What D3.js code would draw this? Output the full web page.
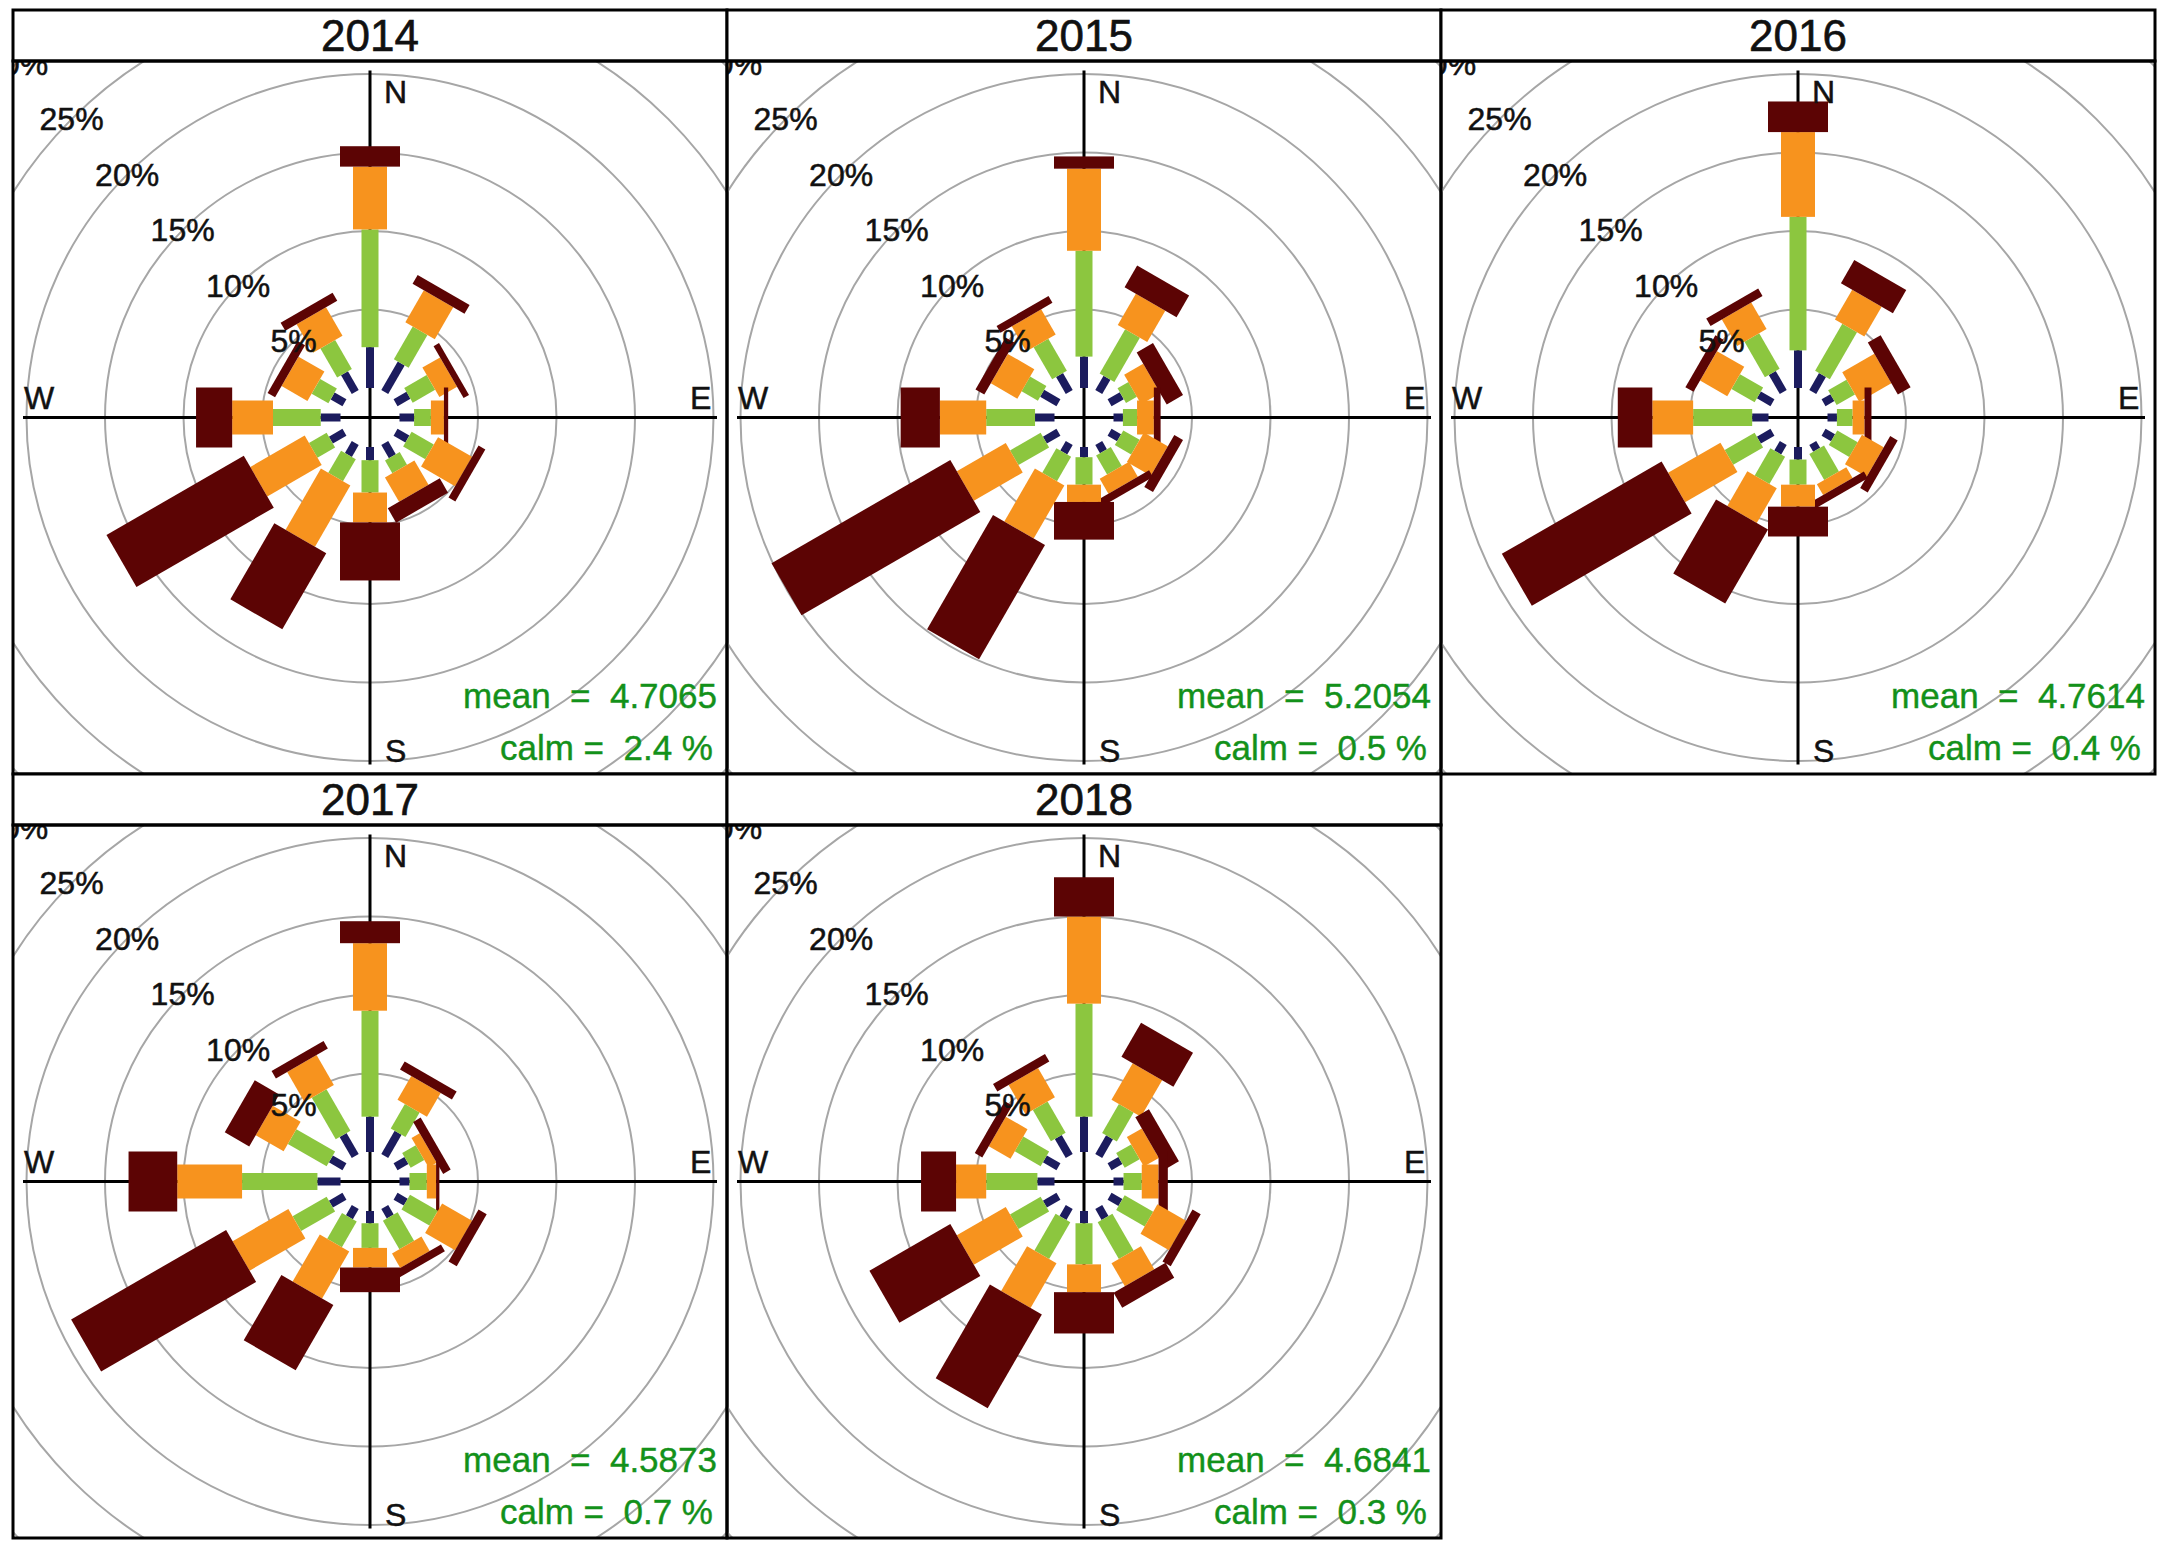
<!DOCTYPE html>
<html><head><meta charset="utf-8">
<script src="https://cdn.jsdelivr.net/npm/d3@7"></script>
<style>body{margin:0;background:#fff}svg{display:block}</style>
</head><body>
<svg id="chart" width="2159" height="1541"></svg>
<script>
// ---------------- data ----------------
const years = ["2014", "2015", "2016", "2017", "2018"];
const directions = [0, 30, 60, 90, 120, 150, 180, 210, 240, 270, 300, 330];
const speedBins = ["bin1", "bin2", "bin3", "bin4"];
const binColors = ["#1c1c5e", "#8cc63f", "#f7931e", "#5c0404"];
const gridPct = [5, 10, 15, 20, 25, 30];
const gridLabels = ["5%", "10%", "15%", "20%", "25%", "30%"];
const meanSpeed = ["4.7065", "5.2054", "4.7614", "4.5873", "4.6841"];
const calmPct = ["2.4", "0.5", "0.4", "0.7", "0.3"];

// frequency (%) per direction (rows, same order as directions) per speed bin (columns)
const freq2014 = [
  [2.6, 7.5, 4.0, 1.3], [2.1, 2.4, 2.35, 0.65], [0.95, 1.65, 1.3, 0.4], [0.93, 1.07, 0.83, 0.27],
  [0.87, 1.63, 2.5, 0.5], [0.97, 0.93, 1.8, 1.05], [0.84, 2.06, 1.9, 3.7], [0.87, 1.63, 4.5, 5.6],
  [1.0, 1.3, 4.0, 10.1], [1.26, 3.04, 2.6, 2.3], [0.87, 1.23, 1.9, 0.55], [1.37, 2.13, 2.1, 0.6]
];
const freq2015 = [
  [2.0, 6.74, 5.23, 0.78], [1.05, 3.25, 2.3, 1.6], [0.9, 0.8, 1.4, 1.2], [0.6, 0.9, 1.07, 0.43],
  [0.7, 1.2, 1.76, 0.64], [0.6, 1.4, 1.1, 0.5], [0.65, 1.75, 1.1, 2.4], [0.7, 1.8, 3.9, 8.4],
  [1.0, 2.25, 3.6, 13.15], [1.24, 3.11, 2.95, 2.5], [1.2, 1.2, 1.95, 0.65], [1.24, 2.36, 1.85, 0.5]
];
const freq2016 = [
  [2.4, 8.5, 5.4, 1.95], [1.24, 3.46, 2.2, 1.7], [0.65, 1.35, 2.36, 0.94], [0.6, 1.0, 0.76, 0.44],
  [0.7, 1.5, 1.6, 0.55], [0.5, 1.9, 0.8, 0.5], [0.8, 1.6, 1.4, 1.9], [0.7, 2.0, 2.55, 5.45],
  [1.0, 2.2, 3.85, 11.75], [1.04, 3.76, 2.6, 2.2], [1.0, 1.7, 2.0, 0.6], [1.4, 2.6, 1.95, 0.55]
];
const freq2017 = [
  [2.25, 6.75, 4.3, 1.4], [1.7, 1.8, 1.75, 0.6], [0.8, 1.0, 0.6, 0.55], [0.64, 1.1, 0.59, 0.21],
  [0.75, 2.05, 2.2, 0.6], [0.7, 2.1, 1.05, 0.5], [0.78, 1.57, 1.25, 1.57], [0.75, 1.89, 3.46, 4.8],
  [1.0, 2.5, 4.1, 11.4], [1.47, 4.8, 4.13, 3.1], [1.0, 2.85, 2.05, 1.8], [1.55, 3.05, 2.2, 0.55]
];
const freq2018 = [
  [2.25, 7.2, 5.55, 2.5], [1.37, 2.13, 2.7, 2.5], [0.8, 1.1, 1.1, 1.0], [0.64, 1.16, 1.07, 0.59],
  [0.8, 2.1, 2.1, 0.6], [0.8, 2.7, 1.7, 1.1], [0.78, 2.62, 1.77, 2.63], [0.8, 2.7, 3.3, 6.9],
  [1.0, 2.25, 3.6, 5.95], [1.09, 3.26, 1.92, 2.23], [1.0, 1.9, 1.6, 0.55], [1.4, 2.3, 2.15, 0.55]
];
const freqByYear = [freq2014, freq2015, freq2016, freq2017, freq2018];

// ---------------- layout ----------------
const font = "'Liberation Sans', Arial, sans-serif";
const left0 = 13, top0 = 10, panelW = 714, headerH = 51, plotH = 713, nCols = 3;
const paddleW = [8, 17, 34, 60];
const axisExtent = 347;
const r = d3.scaleLinear().domain([0, 30]).range([29.5, 500.5]);

const svg = d3.select("#chart");
const defs = svg.append("defs");

years.forEach((yr, i) => {
  const col = i % nCols, row = Math.floor(i / nCols);
  const x0 = left0 + col * panelW;
  const y0 = top0 + row * (headerH + plotH);
  const py = y0 + headerH;
  const cx = x0 + panelW / 2, cy = py + plotH / 2;

  defs.append("clipPath").attr("id", "clip" + i)
    .append("rect").attr("x", x0).attr("y", py).attr("width", panelW).attr("height", plotH);

  const panel = svg.append("g");
  const plot = panel.append("g").attr("clip-path", `url(#clip${i})`);

  // grid circles
  plot.selectAll("circle.grid").data(gridPct).join("circle")
    .attr("cx", cx).attr("cy", cy).attr("r", d => r(d))
    .attr("fill", "none").attr("stroke", "#a6a6a6").attr("stroke-width", 2);

  // axis cross
  plot.append("line").attr("x1", cx).attr("x2", cx).attr("y1", cy - axisExtent).attr("y2", cy + axisExtent)
    .attr("stroke", "#000").attr("stroke-width", 3);
  plot.append("line").attr("x1", cx - axisExtent).attr("x2", cx + axisExtent).attr("y1", cy).attr("y2", cy)
    .attr("stroke", "#000").attr("stroke-width", 3);

  // paddles
  const freq = freqByYear[i];
  directions.forEach((dir, k) => {
    const cum = d3.cumsum(freq[k]);
    const g = plot.append("g").attr("transform", `translate(${cx},${cy}) rotate(${dir})`);
    speedBins.forEach((b, j) => {
      const p0 = j === 0 ? 0 : cum[j - 1], p1 = cum[j];
      g.append("rect")
        .attr("x", -paddleW[j] / 2).attr("width", paddleW[j])
        .attr("y", -r(p1)).attr("height", r(p1) - r(p0))
        .attr("fill", binColors[j]);
    });
  });

  // grid labels on NW diagonal
  plot.selectAll("text.pct").data(gridPct).join("text")
    .attr("x", d => cx - r(d) / Math.SQRT2).attr("y", d => cy - r(d) / Math.SQRT2)
    .attr("text-anchor", "middle").attr("dominant-baseline", "central")
    .attr("font-family", font).attr("font-size", 32).attr("fill", "#111")
    .attr("stroke", "#111").attr("stroke-width", 0.5)
    .text((d, j) => gridLabels[j]);

  // compass labels
  const comp = [["N", cx + 14, cy - 315], ["E", cx + 320, cy - 9], ["S", cx + 15, cy + 344], ["W", cx - 346, cy - 9]];
  comp.forEach(([t, x, y]) => {
    plot.append("text").attr("x", x).attr("y", y)
      .attr("font-family", font).attr("font-size", 32).attr("fill", "#111")
      .attr("stroke", "#111").attr("stroke-width", 0.5).text(t);
  });

  // mean / calm
  plot.append("text").attr("x", x0 + panelW - 10).attr("y", py + 647)
    .attr("text-anchor", "end").attr("font-family", font).attr("font-size", 35)
    .attr("fill", "#13911a").attr("stroke", "#13911a").attr("stroke-width", 0.4)
    .style("white-space", "pre").text(`mean  =  ${meanSpeed[i]}`);
  plot.append("text").attr("x", x0 + panelW - 14).attr("y", py + 699)
    .attr("text-anchor", "end").attr("font-family", font).attr("font-size", 35)
    .attr("fill", "#13911a").attr("stroke", "#13911a").attr("stroke-width", 0.4)
    .style("white-space", "pre").text(`calm =  ${calmPct[i]} %`);

  // header strip and frames
  panel.append("rect").attr("x", x0).attr("y", y0).attr("width", panelW).attr("height", headerH)
    .attr("fill", "#fff").attr("stroke", "#000").attr("stroke-width", 3);
  panel.append("text").attr("x", cx).attr("y", y0 + headerH / 2 + 15)
    .attr("text-anchor", "middle").attr("font-family", font).attr("font-size", 44).attr("fill", "#111")
    .attr("stroke", "#111").attr("stroke-width", 0.6).text(yr);
  panel.append("rect").attr("x", x0).attr("y", py).attr("width", panelW).attr("height", plotH)
    .attr("fill", "none").attr("stroke", "#000").attr("stroke-width", 3);
});
</script>
</body></html>
